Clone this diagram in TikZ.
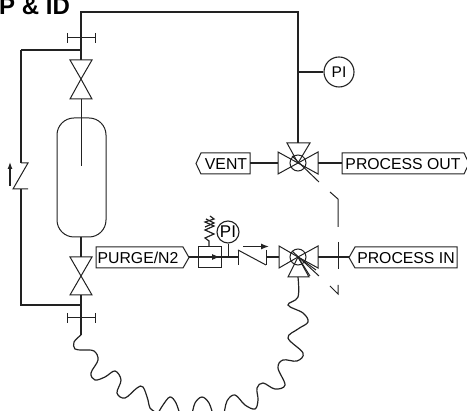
\documentclass[tikz,border=0pt]{standalone}
\usepackage{fontspec}
\setmainfont{Liberation Sans}
\usepackage{tikz}
\usetikzlibrary{arrows.meta,calc}
\definecolor{pipeink}{HTML}{222222}
\tikzset{
	pipe/.style={line width=1.2pt, color=pipeink},
	thinpipe/.style={line width=1pt, color=pipeink},
	gauge/.style={circle, draw=pipeink, line width=1.1pt, inner sep=0pt},
	tagtext/.style={inner sep=0pt, font=\fontsize{15.8}{16}\selectfont},
}
% triangle of a valve, apex at the first point
\def\valvetri(#1)(#2:#3)(#4:#5){\draw[thinpipe] (#1) -- ($(#1)+(#2,#3)$) -- ($(#1)+(#4,#5)$) -- cycle;}
\def\flange(#1,#2){\draw[thinpipe] (#1-14,#2) -- (#1+14,#2); \draw[thinpipe] (#1-14,#2-5) -- (#1-14,#2+5); \draw[thinpipe] (#1+14,#2-5) -- (#1+14,#2+5);}

\begin{document}
\begin{tikzpicture}[x=1pt,y=-1pt]
	%%%%% START %%%%%
	\useasboundingbox (0,0) rectangle (467,411);
	\clip (0,0) rectangle (467,411);

	\node[anchor=base west, inner sep=0pt, font=\bfseries\fontsize{24}{24}\selectfont] (title) at (-1,15) {P \& ID};

	\coordinate (ventvalve) at (298,163);
	\coordinate (invalve) at (298,257);
	\coordinate (topvalve) at (81,79);
	\coordinate (lowvalve) at (81,276);

	% tags
	\draw[thinpipe] (196,163.5) -- (201,153) -- (250,153) -- (250,174) -- (201,174) -- cycle;
	\node[tagtext] (vent) at (226,164) {VENT};
	\draw[thinpipe] (342,153) -- (464,153) -- (469,163.5) -- (464,174) -- (342,174) -- cycle;
	\node[tagtext] (processout) at (403,164) {PROCESS OUT};
	\draw[thinpipe] (349,257.5) -- (355,247) -- (457,247) -- (457,268) -- (355,268) -- cycle;
	\node[tagtext] (processin) at (406,258) {PROCESS IN};
	\draw[thinpipe] (96,247) -- (183,247) -- (189,257.5) -- (183,268) -- (96,268) -- cycle;
	\node[tagtext] (purge) at (138,258) {PURGE/N2};

	% gauges
	\node[gauge, minimum size=30pt, font=\fontsize{15.5}{16}\selectfont] (gaugetop) at (339,72) {PI};
	\node[gauge, minimum size=22pt, font=\fontsize{17}{17}\selectfont] (gaugelow) at (228,232) {PI};

	% main line
	\draw[pipe] (81,60) -- (81,12) -- (298,12) -- (298,143);
	\draw[pipe] (298,72) -- (gaugetop);
	\draw[pipe] (250,163) -- (278,163);
	\draw[pipe] (318,163) -- (342,163);
	\draw[pipe] (318,257) -- (349,257);
	\draw[pipe] (21,50) -- (81,50);
	\draw[pipe] (21,50) -- (21,163);
	\draw[pipe] (21,189) -- (21,305) -- (81,305);
	\draw[thinpipe] (81,99) -- (81,166);
	\draw[pipe] (81,237) -- (81,257);
	\draw[pipe] (81,295) -- (81,335);

	% flanges
	\flange(81,38)
	\flange(81,318)

	% vessel
	\draw[thinpipe, rounded corners=17pt] (57,118) rectangle (106,237);

	% left valves
	\valvetri(topvalve)(-11:-19)(11:-19)
	\valvetri(topvalve)(-11:20)(11:20)
	\valvetri(lowvalve)(-11:-19)(11:-19)
	\valvetri(lowvalve)(-11:19)(11:19)

	% check valve on the return
	\draw[thinpipe] (21,163) -- (28,163) -- (13,189) -- (28,189);
	\draw[line width=1.2pt, color=pipeink, -{Latex[length=7pt,width=5pt]}] (10,186) -- (10,162);

	% vent valve
	\valvetri(ventvalve)(-11:-20)(12:-20)
	\valvetri(ventvalve)(-20:-11)(-20:11)
	\valvetri(ventvalve)(20:-11)(20:11)
	\draw[thinpipe] (ventvalve) circle (8);
	\draw[thinpipe] (292,156) -- (319,182);

	% process in valve
	\valvetri(invalve)(-19:-11)(-19:11)
	\valvetri(invalve)(20:-11)(20:11)
	\valvetri(invalve)(-10:20)(11:20)
	\draw[thinpipe] (invalve) circle (8);
	\draw[thinpipe] (292,251) -- (319,276);
	\draw[thinpipe] (298,257) -- (316,270);
	\draw[thinpipe] (298,257) -- (310,276);

	% broken process line
	\draw[thinpipe] (330,192) -- (338,199) -- (338,227);
	\draw[thinpipe] (338,242) -- (338,269);
	\draw[thinpipe] (330,286) -- (338,294) -- (338,285);

	% purge regulator
	\draw[pipe] (189,257) -- (238,257);
	\draw[thinpipe] (198,247) rectangle (221,268);
	\draw[thinpipe, -{Latex[length=8pt,width=6pt]}] (205,257) -- (220,257);
	\draw[line width=1.2pt, color=pipeink] (209,247) -- (209,241) -- (205,238) -- (214,234) -- (205,230) -- (214,226) -- (205,222) -- (214,219) -- (210,216);
	\draw[line width=1.2pt, color=pipeink] (205,227) -- (214,223) -- (206,219);
	\draw[thinpipe] (gaugelow) -- (228,257);

	% purge check valve
	\draw[thinpipe] (238,250) -- (238,265);
	\draw[thinpipe] (238,250) -- (266,265);
	\draw[thinpipe] (266,250) -- (266,265);
	\draw[pipe] (266,257) -- (279,257);
	\draw[line width=1.2pt, color=pipeink, -{Latex[length=8pt,width=6pt]}] (243,246.5) -- (269,246.5);

	% hose
	\draw[pipe] plot[smooth, tension=0.6] coordinates {(81,335) (74,342) (75,349) (83,350) (94,351) (98,360) (91,373) (95,380) (105,377) (115,371) (121,380) (117,393) (125,398) (137,388) (143,387) (148,400) (150,408) (157,413)};
	\draw[pipe] plot[smooth, tension=0.6] coordinates {(157,415) (163,405) (170,397) (176,403) (180,415)};
	\draw[pipe] plot[smooth, tension=0.6] coordinates {(192,415) (195,403) (202,397) (209,403) (213,415)};
	\draw[pipe] plot[smooth, tension=0.6] coordinates {(224,415) (227,401) (235,395) (245,405) (255,409) (258,400) (257,388) (263,383) (275,389) (285,385) (278,368) (283,360) (297,361) (303,353) (288,338) (298,329) (308,322) (303,313) (288,305) (298,297) (298,277)};
	%%%%% END %%%%%
\end{tikzpicture}
\end{document}
